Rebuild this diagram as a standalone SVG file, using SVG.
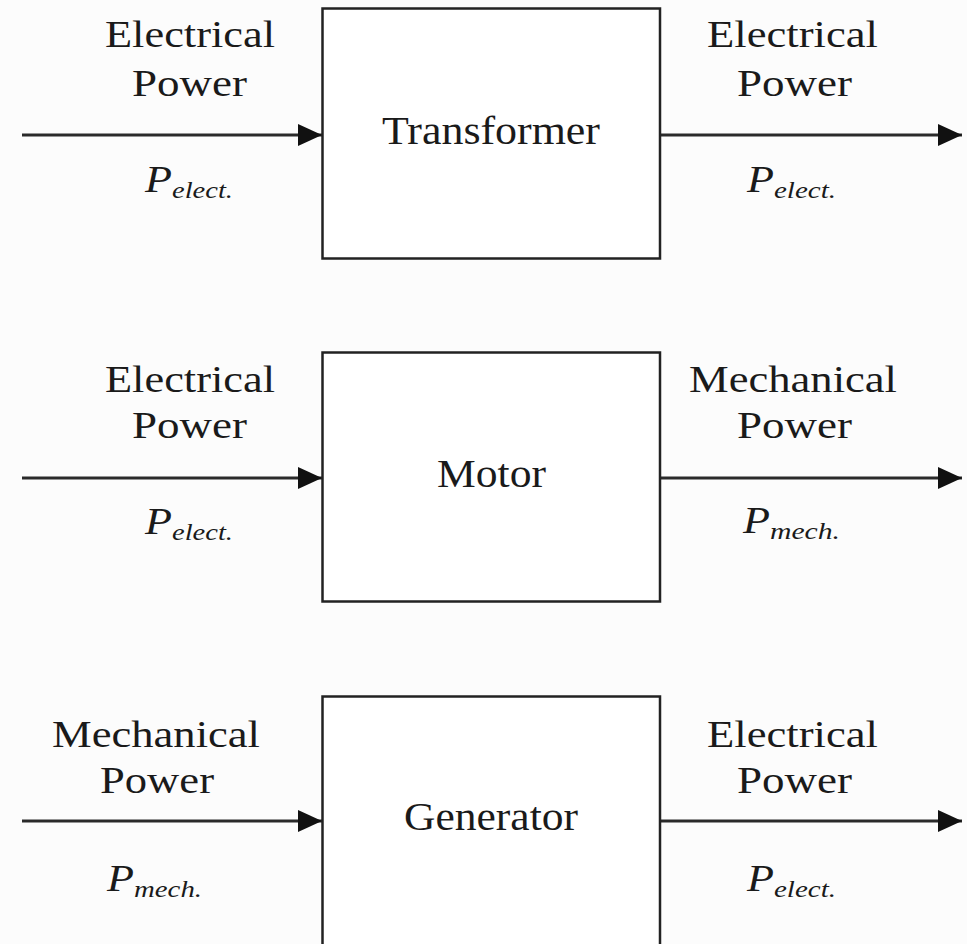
<svg xmlns="http://www.w3.org/2000/svg" width="967" height="944" viewBox="0 0 967 944">
<style>
.box{fill:#fff;stroke:#222;stroke-width:2.5}
.conn{stroke:#2a2a2a;stroke-width:3;fill:none}
.lbl{font-family:"Liberation Serif","Times New Roman",serif;font-size:38px;fill:#1a1a1a}
.name{font-family:"Liberation Serif","Times New Roman",serif;font-size:40px;fill:#1a1a1a}
.sym{font-family:"Liberation Serif","Times New Roman",serif;font-style:italic;font-size:38px;fill:#1a1a1a}
.sub{font-family:"Liberation Serif","Times New Roman",serif;font-style:italic;font-size:24px;fill:#1a1a1a}
</style>
<defs>
<marker id="arr" markerUnits="userSpaceOnUse" markerWidth="24" markerHeight="22" refX="24" refY="11" orient="auto">
<path d="M0,0 L24,11 L0,22 Z" fill="#111"/>
</marker>
</defs>
<rect width="967" height="944" fill="#fcfcfc"/>
<g id="connectors">
<line class="conn" x1="22" y1="135" x2="322" y2="135" marker-end="url(#arr)"/>
<line class="conn" x1="660" y1="135" x2="962" y2="135" marker-end="url(#arr)"/>
<line class="conn" x1="22" y1="478" x2="322" y2="478" marker-end="url(#arr)"/>
<line class="conn" x1="660" y1="478" x2="962" y2="478" marker-end="url(#arr)"/>
<line class="conn" x1="22" y1="821" x2="322" y2="821" marker-end="url(#arr)"/>
<line class="conn" x1="660" y1="821" x2="962" y2="821" marker-end="url(#arr)"/>
</g>
<g id="transformer">
<rect class="box" x="322.5" y="8.5" width="337.5" height="250"/>
<text class="name" x="382" y="144" textLength="218" lengthAdjust="spacingAndGlyphs">Transformer</text>
</g>
<g id="motor">
<rect class="box" x="322.5" y="352.5" width="337.5" height="249"/>
<text class="name" x="437" y="487" textLength="109" lengthAdjust="spacingAndGlyphs">Motor</text>
</g>
<g id="generator">
<rect class="box" x="322.5" y="696.5" width="337.5" height="260"/>
<text class="name" x="404" y="830" textLength="174" lengthAdjust="spacingAndGlyphs">Generator</text>
</g>
<g id="labels-transformer-in">
<text class="lbl" x="105" y="47" textLength="170" lengthAdjust="spacingAndGlyphs">Electrical</text>
<text class="lbl" x="132" y="96" textLength="115" lengthAdjust="spacingAndGlyphs">Power</text>
<text class="sym" x="145" y="192" textLength="27" lengthAdjust="spacingAndGlyphs">P</text>
<text class="sub" x="172" y="198" textLength="61" lengthAdjust="spacingAndGlyphs">elect.</text>
</g>
<g id="labels-transformer-out">
<text class="lbl" x="707" y="47" textLength="171" lengthAdjust="spacingAndGlyphs">Electrical</text>
<text class="lbl" x="737" y="96" textLength="115" lengthAdjust="spacingAndGlyphs">Power</text>
<text class="sym" x="747" y="192" textLength="27" lengthAdjust="spacingAndGlyphs">P</text>
<text class="sub" x="774" y="198" textLength="62" lengthAdjust="spacingAndGlyphs">elect.</text>
</g>
<g id="labels-motor-in">
<text class="lbl" x="105" y="392" textLength="170" lengthAdjust="spacingAndGlyphs">Electrical</text>
<text class="lbl" x="132" y="438" textLength="115" lengthAdjust="spacingAndGlyphs">Power</text>
<text class="sym" x="145" y="534" textLength="27" lengthAdjust="spacingAndGlyphs">P</text>
<text class="sub" x="172" y="540" textLength="61" lengthAdjust="spacingAndGlyphs">elect.</text>
</g>
<g id="labels-motor-out">
<text class="lbl" x="689" y="392" textLength="208" lengthAdjust="spacingAndGlyphs">Mechanical</text>
<text class="lbl" x="737" y="438" textLength="115" lengthAdjust="spacingAndGlyphs">Power</text>
<text class="sym" x="743" y="533" textLength="27" lengthAdjust="spacingAndGlyphs">P</text>
<text class="sub" x="770" y="539" textLength="70" lengthAdjust="spacingAndGlyphs">mech.</text>
</g>
<g id="labels-generator-in">
<text class="lbl" x="52" y="747" textLength="208" lengthAdjust="spacingAndGlyphs">Mechanical</text>
<text class="lbl" x="100" y="793" textLength="114" lengthAdjust="spacingAndGlyphs">Power</text>
<text class="sym" x="107" y="891" textLength="27" lengthAdjust="spacingAndGlyphs">P</text>
<text class="sub" x="134" y="897" textLength="68" lengthAdjust="spacingAndGlyphs">mech.</text>
</g>
<g id="labels-generator-out">
<text class="lbl" x="707" y="747" textLength="171" lengthAdjust="spacingAndGlyphs">Electrical</text>
<text class="lbl" x="737" y="793" textLength="115" lengthAdjust="spacingAndGlyphs">Power</text>
<text class="sym" x="747" y="891" textLength="27" lengthAdjust="spacingAndGlyphs">P</text>
<text class="sub" x="774" y="897" textLength="62" lengthAdjust="spacingAndGlyphs">elect.</text>
</g>
</svg>
